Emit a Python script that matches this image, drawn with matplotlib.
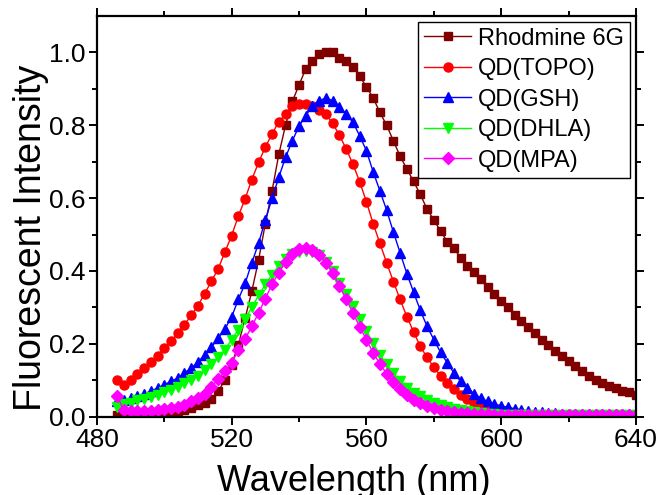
import numpy as np
import matplotlib
matplotlib.use('Agg')
from matplotlib import pyplot as plt

plt.rcParams['font.family'] = ['Liberation Sans', 'DejaVu Sans']

# wavelength grid, 2 nm steps
wl = np.arange(486, 641, 2)

rhodamine = [0.005, 0.004, 0.004, 0.005, 0.006, 0.007, 0.009, 0.011, 0.013, 0.016,
             0.020, 0.025, 0.031, 0.039, 0.050, 0.070, 0.100, 0.143, 0.198, 0.270,
             0.345, 0.430, 0.530, 0.620, 0.720, 0.800, 0.865, 0.910, 0.955, 0.975,
             0.995, 1.000, 1.000, 0.985, 0.975, 0.960, 0.935, 0.905, 0.875, 0.835,
             0.800, 0.757, 0.715, 0.680, 0.646, 0.610, 0.570, 0.540, 0.510, 0.480,
             0.462, 0.436, 0.415, 0.398, 0.377, 0.357, 0.336, 0.317, 0.300, 0.279,
             0.262, 0.245, 0.230, 0.212, 0.196, 0.180, 0.166, 0.152, 0.138, 0.125,
             0.113, 0.101, 0.092, 0.085, 0.079, 0.072, 0.067, 0.060]

topo = [0.100, 0.088, 0.100, 0.118, 0.134, 0.150, 0.168, 0.189, 0.207, 0.230,
        0.253, 0.278, 0.305, 0.338, 0.372, 0.406, 0.452, 0.497, 0.551, 0.598,
        0.651, 0.698, 0.740, 0.776, 0.810, 0.830, 0.853, 0.858, 0.858, 0.852,
        0.842, 0.830, 0.805, 0.772, 0.735, 0.693, 0.645, 0.590, 0.530, 0.476,
        0.423, 0.371, 0.322, 0.275, 0.233, 0.193, 0.163, 0.136, 0.113, 0.093,
        0.076, 0.061, 0.049, 0.038, 0.030, 0.023, 0.017, 0.013, 0.010, 0.008,
        0.007, 0.006, 0.005, 0.005, 0.005, 0.005, 0.005, 0.005, 0.005, 0.005,
        0.005, 0.005, 0.005, 0.005, 0.005, 0.005, 0.005, 0.005]

gsh = [0.042, 0.045, 0.051, 0.058, 0.063, 0.070, 0.079, 0.088, 0.097, 0.106,
       0.120, 0.134, 0.150, 0.170, 0.191, 0.216, 0.241, 0.274, 0.322, 0.366,
       0.423, 0.476, 0.540, 0.599, 0.657, 0.712, 0.757, 0.797, 0.826, 0.854,
       0.867, 0.875, 0.867, 0.849, 0.831, 0.808, 0.771, 0.730, 0.672, 0.620,
       0.567, 0.507, 0.450, 0.393, 0.342, 0.292, 0.248, 0.212, 0.177, 0.148,
       0.120, 0.097, 0.079, 0.063, 0.051, 0.042, 0.035, 0.030, 0.026, 0.022,
       0.019, 0.016, 0.014, 0.012, 0.011, 0.010, 0.009, 0.008, 0.007, 0.007,
       0.007, 0.007, 0.007, 0.007, 0.007, 0.007, 0.007, 0.007]

dhla = [0.028, 0.036, 0.039, 0.045, 0.049, 0.054, 0.060, 0.067, 0.074, 0.083,
        0.094, 0.102, 0.113, 0.129, 0.146, 0.164, 0.184, 0.212, 0.239, 0.269,
        0.300, 0.333, 0.363, 0.390, 0.415, 0.433, 0.446, 0.453, 0.455, 0.452,
        0.443, 0.425, 0.400, 0.368, 0.338, 0.303, 0.268, 0.236, 0.202, 0.170,
        0.144, 0.119, 0.098, 0.080, 0.066, 0.056, 0.047, 0.039, 0.033, 0.027,
        0.022, 0.018, 0.015, 0.012, 0.010, 0.008, 0.007, 0.006, 0.005, 0.005,
        0.005, 0.005, 0.005, 0.005, 0.005, 0.005, 0.005, 0.005, 0.005, 0.005,
        0.005, 0.005, 0.005, 0.005, 0.005, 0.005, 0.005, 0.005]

mpa = [0.056, 0.019, 0.015, 0.015, 0.015, 0.016, 0.019, 0.021, 0.024, 0.028,
       0.033, 0.042, 0.051, 0.063, 0.083, 0.103, 0.125, 0.148, 0.182, 0.214,
       0.248, 0.285, 0.324, 0.364, 0.395, 0.425, 0.447, 0.459, 0.462, 0.458,
       0.445, 0.423, 0.395, 0.358, 0.322, 0.285, 0.247, 0.212, 0.175, 0.146,
       0.118, 0.096, 0.075, 0.059, 0.047, 0.038, 0.030, 0.024, 0.019, 0.016,
       0.013, 0.011, 0.010, 0.009, 0.008, 0.007, 0.006, 0.006, 0.006, 0.006,
       0.006, 0.006, 0.006, 0.006, 0.006, 0.006, 0.006, 0.006, 0.006, 0.006,
       0.006, 0.006, 0.006, 0.006, 0.006, 0.006, 0.006, 0.006]

labels = ['Rhodmine 6G', 'QD(TOPO)', 'QD(GSH)', 'QD(DHLA)', 'QD(MPA)']
series = [rhodamine, topo, gsh, dhla, mpa]
colors = ['#800000', '#FF0000', '#0000FF', '#00FF00', '#FF00FF']
markers = ['s', 'o', '^', 'v', 'D']
msizes = [5.8, 6.5, 7, 7, 5.8]

fig = plt.figure(figsize=(6.59, 4.95), dpi=100)
ax = fig.add_axes([0.147, 0.158, 0.818, 0.810])

for y, lab, c, m, ms in zip(series, labels, colors, markers, msizes):
    ax.plot(wl, y, color=c, marker=m, markersize=ms, markeredgecolor=c,
            linewidth=1.0, label=lab)

ax.set_xlim(480, 640)
ax.set_ylim(0, 1.1)
ax.set_xticks([480, 520, 560, 600, 640])
ax.set_xticks([500, 540, 580, 620], minor=True)
ax.set_yticks([0.0, 0.2, 0.4, 0.6, 0.8, 1.0])
ax.set_yticks([0.1, 0.3, 0.5, 0.7, 0.9], minor=True)
ax.yaxis.set_major_formatter(matplotlib.ticker.FormatStrFormatter('%.1f'))

for s in ax.spines.values():
    s.set_linewidth(1.6)
ax.tick_params(which='both', direction='out', top=True, right=True,
               labelsize=19, width=1.4)
ax.tick_params(which='major', length=6, pad=2)
ax.tick_params(which='minor', length=3.5)

ax.set_xlabel('Wavelength (nm)', fontsize=26, labelpad=9)
ax.set_ylabel('Fluorescent Intensity', fontsize=27, labelpad=0)
ax.xaxis.label.set_x(0.476)
ax.yaxis.label.set_y(0.446)

leg = ax.legend(loc='upper right', fontsize=17, frameon=True, fancybox=False,
                handlelength=2.0, labelspacing=0.36, borderaxespad=0.25,
                borderpad=0.25, handletextpad=0.3, framealpha=1)
leg.get_frame().set_edgecolor('black')
leg.get_frame().set_linewidth(1.0)

fig.savefig('out.png', dpi=100)
